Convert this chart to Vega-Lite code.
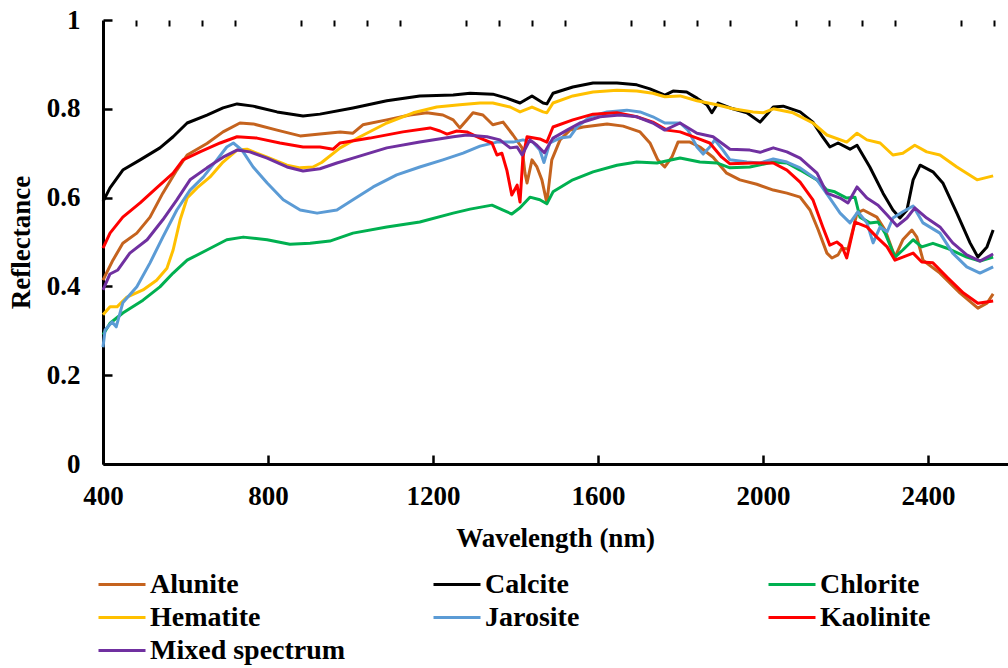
{
  "$schema": "https://vega.github.io/schema/vega-lite/v6.json",
  "width": 905,
  "height": 444,
  "autosize": {"type": "none"},
  "padding": {"left": 103, "top": 20, "right": 0, "bottom": 204},
  "background": "white",
  "config": {"view": {"stroke": null}, "font": "Liberation Serif"},
  "data": {"values": [
    {"m":"Alunite","w":400,"r":0.414},{"m":"Alunite","w":424,"r":0.459},{"m":"Alunite","w":448,"r":0.497},{"m":"Alunite","w":482,"r":0.520},{"m":"Alunite","w":514,"r":0.556},{"m":"Alunite","w":545,"r":0.610},{"m":"Alunite","w":579,"r":0.662},{"m":"Alunite","w":604,"r":0.696},{"m":"Alunite","w":652,"r":0.722},{"m":"Alunite","w":691,"r":0.748},{"m":"Alunite","w":732,"r":0.768},{"m":"Alunite","w":764,"r":0.766},{"m":"Alunite","w":822,"r":0.752},{"m":"Alunite","w":878,"r":0.739},{"m":"Alunite","w":926,"r":0.743},{"m":"Alunite","w":975,"r":0.748},{"m":"Alunite","w":1006,"r":0.745},{"m":"Alunite","w":1030,"r":0.764},{"m":"Alunite","w":1088,"r":0.775},{"m":"Alunite","w":1144,"r":0.786},{"m":"Alunite","w":1185,"r":0.791},{"m":"Alunite","w":1224,"r":0.786},{"m":"Alunite","w":1249,"r":0.775},{"m":"Alunite","w":1265,"r":0.757},{"m":"Alunite","w":1282,"r":0.775},{"m":"Alunite","w":1297,"r":0.791},{"m":"Alunite","w":1321,"r":0.786},{"m":"Alunite","w":1345,"r":0.764},{"m":"Alunite","w":1370,"r":0.770},{"m":"Alunite","w":1394,"r":0.741},{"m":"Alunite","w":1416,"r":0.712},{"m":"Alunite","w":1423,"r":0.655},{"m":"Alunite","w":1428,"r":0.633},{"m":"Alunite","w":1440,"r":0.685},{"m":"Alunite","w":1452,"r":0.669},{"m":"Alunite","w":1464,"r":0.640},{"m":"Alunite","w":1476,"r":0.588},{"m":"Alunite","w":1488,"r":0.685},{"m":"Alunite","w":1508,"r":0.730},{"m":"Alunite","w":1532,"r":0.752},{"m":"Alunite","w":1564,"r":0.759},{"m":"Alunite","w":1622,"r":0.766},{"m":"Alunite","w":1661,"r":0.761},{"m":"Alunite","w":1702,"r":0.748},{"m":"Alunite","w":1726,"r":0.723},{"m":"Alunite","w":1745,"r":0.685},{"m":"Alunite","w":1762,"r":0.669},{"m":"Alunite","w":1779,"r":0.691},{"m":"Alunite","w":1794,"r":0.725},{"m":"Alunite","w":1823,"r":0.725},{"m":"Alunite","w":1847,"r":0.714},{"m":"Alunite","w":1879,"r":0.691},{"m":"Alunite","w":1912,"r":0.655},{"m":"Alunite","w":1944,"r":0.640},{"m":"Alunite","w":1985,"r":0.630},{"m":"Alunite","w":2025,"r":0.617},{"m":"Alunite","w":2058,"r":0.610},{"m":"Alunite","w":2090,"r":0.601},{"m":"Alunite","w":2114,"r":0.572},{"m":"Alunite","w":2134,"r":0.527},{"m":"Alunite","w":2155,"r":0.475},{"m":"Alunite","w":2167,"r":0.464},{"m":"Alunite","w":2182,"r":0.471},{"m":"Alunite","w":2191,"r":0.486},{"m":"Alunite","w":2206,"r":0.484},{"m":"Alunite","w":2228,"r":0.565},{"m":"Alunite","w":2243,"r":0.572},{"m":"Alunite","w":2276,"r":0.556},{"m":"Alunite","w":2296,"r":0.527},{"m":"Alunite","w":2320,"r":0.466},{"m":"Alunite","w":2339,"r":0.505},{"m":"Alunite","w":2361,"r":0.527},{"m":"Alunite","w":2373,"r":0.511},{"m":"Alunite","w":2388,"r":0.459},{"m":"Alunite","w":2429,"r":0.430},{"m":"Alunite","w":2478,"r":0.385},{"m":"Alunite","w":2521,"r":0.351},{"m":"Alunite","w":2543,"r":0.362},{"m":"Alunite","w":2558,"r":0.383},

    {"m":"Calcite","w":400,"r":0.591},{"m":"Calcite","w":417,"r":0.622},{"m":"Calcite","w":448,"r":0.662},{"m":"Calcite","w":490,"r":0.685},{"m":"Calcite","w":538,"r":0.712},{"m":"Calcite","w":570,"r":0.737},{"m":"Calcite","w":604,"r":0.768},{"m":"Calcite","w":652,"r":0.786},{"m":"Calcite","w":691,"r":0.802},{"m":"Calcite","w":725,"r":0.811},{"m":"Calcite","w":764,"r":0.806},{"m":"Calcite","w":822,"r":0.793},{"m":"Calcite","w":885,"r":0.784},{"m":"Calcite","w":926,"r":0.788},{"m":"Calcite","w":1006,"r":0.802},{"m":"Calcite","w":1088,"r":0.818},{"m":"Calcite","w":1168,"r":0.829},{"m":"Calcite","w":1249,"r":0.831},{"m":"Calcite","w":1290,"r":0.835},{"m":"Calcite","w":1345,"r":0.833},{"m":"Calcite","w":1379,"r":0.824},{"m":"Calcite","w":1411,"r":0.813},{"m":"Calcite","w":1440,"r":0.829},{"m":"Calcite","w":1467,"r":0.813},{"m":"Calcite","w":1476,"r":0.811},{"m":"Calcite","w":1491,"r":0.835},{"m":"Calcite","w":1539,"r":0.849},{"m":"Calcite","w":1588,"r":0.858},{"m":"Calcite","w":1646,"r":0.858},{"m":"Calcite","w":1694,"r":0.854},{"m":"Calcite","w":1726,"r":0.845},{"m":"Calcite","w":1762,"r":0.831},{"m":"Calcite","w":1782,"r":0.840},{"m":"Calcite","w":1815,"r":0.838},{"m":"Calcite","w":1840,"r":0.824},{"m":"Calcite","w":1864,"r":0.809},{"m":"Calcite","w":1876,"r":0.791},{"m":"Calcite","w":1891,"r":0.813},{"m":"Calcite","w":1927,"r":0.800},{"m":"Calcite","w":1961,"r":0.791},{"m":"Calcite","w":1993,"r":0.770},{"m":"Calcite","w":2025,"r":0.804},{"m":"Calcite","w":2049,"r":0.806},{"m":"Calcite","w":2090,"r":0.793},{"m":"Calcite","w":2121,"r":0.770},{"m":"Calcite","w":2145,"r":0.736},{"m":"Calcite","w":2162,"r":0.714},{"m":"Calcite","w":2182,"r":0.723},{"m":"Calcite","w":2211,"r":0.709},{"m":"Calcite","w":2228,"r":0.718},{"m":"Calcite","w":2259,"r":0.669},{"m":"Calcite","w":2291,"r":0.610},{"m":"Calcite","w":2315,"r":0.572},{"m":"Calcite","w":2332,"r":0.554},{"m":"Calcite","w":2349,"r":0.572},{"m":"Calcite","w":2364,"r":0.640},{"m":"Calcite","w":2381,"r":0.673},{"m":"Calcite","w":2412,"r":0.658},{"m":"Calcite","w":2436,"r":0.633},{"m":"Calcite","w":2470,"r":0.565},{"m":"Calcite","w":2502,"r":0.498},{"m":"Calcite","w":2521,"r":0.466},{"m":"Calcite","w":2543,"r":0.489},{"m":"Calcite","w":2558,"r":0.527},

    {"m":"Chlorite","w":400,"r":0.291},{"m":"Chlorite","w":417,"r":0.317},{"m":"Chlorite","w":448,"r":0.340},{"m":"Chlorite","w":497,"r":0.369},{"m":"Chlorite","w":538,"r":0.399},{"m":"Chlorite","w":570,"r":0.430},{"m":"Chlorite","w":604,"r":0.459},{"m":"Chlorite","w":652,"r":0.482},{"m":"Chlorite","w":700,"r":0.505},{"m":"Chlorite","w":740,"r":0.511},{"m":"Chlorite","w":798,"r":0.505},{"m":"Chlorite","w":853,"r":0.495},{"m":"Chlorite","w":902,"r":0.497},{"m":"Chlorite","w":950,"r":0.502},{"m":"Chlorite","w":1006,"r":0.520},{"m":"Chlorite","w":1088,"r":0.534},{"m":"Chlorite","w":1168,"r":0.545},{"m":"Chlorite","w":1249,"r":0.565},{"m":"Chlorite","w":1290,"r":0.574},{"m":"Chlorite","w":1343,"r":0.583},{"m":"Chlorite","w":1370,"r":0.572},{"m":"Chlorite","w":1391,"r":0.563},{"m":"Chlorite","w":1411,"r":0.577},{"m":"Chlorite","w":1435,"r":0.601},{"m":"Chlorite","w":1459,"r":0.595},{"m":"Chlorite","w":1476,"r":0.586},{"m":"Chlorite","w":1491,"r":0.613},{"m":"Chlorite","w":1539,"r":0.640},{"m":"Chlorite","w":1588,"r":0.658},{"m":"Chlorite","w":1646,"r":0.673},{"m":"Chlorite","w":1694,"r":0.680},{"m":"Chlorite","w":1743,"r":0.678},{"m":"Chlorite","w":1799,"r":0.689},{"m":"Chlorite","w":1847,"r":0.680},{"m":"Chlorite","w":1888,"r":0.678},{"m":"Chlorite","w":1920,"r":0.667},{"m":"Chlorite","w":1968,"r":0.669},{"m":"Chlorite","w":2025,"r":0.680},{"m":"Chlorite","w":2058,"r":0.678},{"m":"Chlorite","w":2090,"r":0.662},{"m":"Chlorite","w":2131,"r":0.640},{"m":"Chlorite","w":2155,"r":0.617},{"m":"Chlorite","w":2174,"r":0.613},{"m":"Chlorite","w":2203,"r":0.599},{"m":"Chlorite","w":2223,"r":0.601},{"m":"Chlorite","w":2235,"r":0.556},{"m":"Chlorite","w":2259,"r":0.543},{"m":"Chlorite","w":2279,"r":0.545},{"m":"Chlorite","w":2296,"r":0.520},{"m":"Chlorite","w":2320,"r":0.466},{"m":"Chlorite","w":2339,"r":0.482},{"m":"Chlorite","w":2364,"r":0.505},{"m":"Chlorite","w":2385,"r":0.489},{"m":"Chlorite","w":2412,"r":0.497},{"m":"Chlorite","w":2446,"r":0.486},{"m":"Chlorite","w":2494,"r":0.466},{"m":"Chlorite","w":2526,"r":0.457},{"m":"Chlorite","w":2558,"r":0.466},

    {"m":"Hematite","w":400,"r":0.336},{"m":"Hematite","w":417,"r":0.354},{"m":"Hematite","w":434,"r":0.354},{"m":"Hematite","w":458,"r":0.376},{"m":"Hematite","w":497,"r":0.392},{"m":"Hematite","w":530,"r":0.414},{"m":"Hematite","w":555,"r":0.441},{"m":"Hematite","w":570,"r":0.482},{"m":"Hematite","w":587,"r":0.550},{"m":"Hematite","w":604,"r":0.599},{"m":"Hematite","w":628,"r":0.622},{"m":"Hematite","w":659,"r":0.646},{"m":"Hematite","w":691,"r":0.680},{"m":"Hematite","w":725,"r":0.707},{"m":"Hematite","w":749,"r":0.709},{"m":"Hematite","w":798,"r":0.691},{"m":"Hematite","w":846,"r":0.673},{"m":"Hematite","w":878,"r":0.667},{"m":"Hematite","w":909,"r":0.669},{"m":"Hematite","w":930,"r":0.679},{"m":"Hematite","w":975,"r":0.712},{"m":"Hematite","w":1023,"r":0.737},{"m":"Hematite","w":1088,"r":0.768},{"m":"Hematite","w":1152,"r":0.791},{"m":"Hematite","w":1209,"r":0.804},{"m":"Hematite","w":1265,"r":0.809},{"m":"Hematite","w":1314,"r":0.813},{"m":"Hematite","w":1345,"r":0.813},{"m":"Hematite","w":1387,"r":0.804},{"m":"Hematite","w":1411,"r":0.793},{"m":"Hematite","w":1440,"r":0.804},{"m":"Hematite","w":1467,"r":0.793},{"m":"Hematite","w":1476,"r":0.791},{"m":"Hematite","w":1491,"r":0.813},{"m":"Hematite","w":1539,"r":0.829},{"m":"Hematite","w":1588,"r":0.838},{"m":"Hematite","w":1646,"r":0.842},{"m":"Hematite","w":1694,"r":0.840},{"m":"Hematite","w":1733,"r":0.835},{"m":"Hematite","w":1762,"r":0.827},{"m":"Hematite","w":1799,"r":0.829},{"m":"Hematite","w":1840,"r":0.818},{"m":"Hematite","w":1888,"r":0.809},{"m":"Hematite","w":1927,"r":0.800},{"m":"Hematite","w":1976,"r":0.793},{"m":"Hematite","w":2000,"r":0.791},{"m":"Hematite","w":2025,"r":0.800},{"m":"Hematite","w":2073,"r":0.791},{"m":"Hematite","w":2121,"r":0.768},{"m":"Hematite","w":2155,"r":0.741},{"m":"Hematite","w":2203,"r":0.725},{"m":"Hematite","w":2228,"r":0.745},{"m":"Hematite","w":2252,"r":0.730},{"m":"Hematite","w":2284,"r":0.723},{"m":"Hematite","w":2315,"r":0.696},{"m":"Hematite","w":2339,"r":0.700},{"m":"Hematite","w":2368,"r":0.718},{"m":"Hematite","w":2397,"r":0.703},{"m":"Hematite","w":2429,"r":0.696},{"m":"Hematite","w":2470,"r":0.669},{"m":"Hematite","w":2519,"r":0.640},{"m":"Hematite","w":2558,"r":0.649},

    {"m":"Jarosite","w":400,"r":0.263},{"m":"Jarosite","w":405,"r":0.302},{"m":"Jarosite","w":422,"r":0.320},{"m":"Jarosite","w":432,"r":0.309},{"m":"Jarosite","w":448,"r":0.363},{"m":"Jarosite","w":482,"r":0.399},{"m":"Jarosite","w":514,"r":0.453},{"m":"Jarosite","w":545,"r":0.511},{"m":"Jarosite","w":579,"r":0.572},{"m":"Jarosite","w":611,"r":0.617},{"m":"Jarosite","w":643,"r":0.646},{"m":"Jarosite","w":676,"r":0.685},{"m":"Jarosite","w":700,"r":0.714},{"m":"Jarosite","w":716,"r":0.723},{"m":"Jarosite","w":737,"r":0.707},{"m":"Jarosite","w":764,"r":0.669},{"m":"Jarosite","w":798,"r":0.633},{"m":"Jarosite","w":837,"r":0.595},{"m":"Jarosite","w":878,"r":0.572},{"m":"Jarosite","w":919,"r":0.565},{"m":"Jarosite","w":967,"r":0.572},{"m":"Jarosite","w":1006,"r":0.595},{"m":"Jarosite","w":1055,"r":0.624},{"m":"Jarosite","w":1112,"r":0.651},{"m":"Jarosite","w":1168,"r":0.669},{"m":"Jarosite","w":1224,"r":0.685},{"m":"Jarosite","w":1273,"r":0.700},{"m":"Jarosite","w":1314,"r":0.716},{"m":"Jarosite","w":1355,"r":0.725},{"m":"Jarosite","w":1394,"r":0.725},{"m":"Jarosite","w":1418,"r":0.730},{"m":"Jarosite","w":1442,"r":0.725},{"m":"Jarosite","w":1459,"r":0.707},{"m":"Jarosite","w":1469,"r":0.679},{"m":"Jarosite","w":1483,"r":0.723},{"m":"Jarosite","w":1508,"r":0.734},{"m":"Jarosite","w":1532,"r":0.737},{"m":"Jarosite","w":1549,"r":0.759},{"m":"Jarosite","w":1581,"r":0.782},{"m":"Jarosite","w":1622,"r":0.793},{"m":"Jarosite","w":1670,"r":0.797},{"m":"Jarosite","w":1702,"r":0.793},{"m":"Jarosite","w":1733,"r":0.782},{"m":"Jarosite","w":1762,"r":0.768},{"m":"Jarosite","w":1799,"r":0.768},{"m":"Jarosite","w":1818,"r":0.752},{"m":"Jarosite","w":1840,"r":0.714},{"m":"Jarosite","w":1855,"r":0.698},{"m":"Jarosite","w":1871,"r":0.714},{"m":"Jarosite","w":1883,"r":0.730},{"m":"Jarosite","w":1903,"r":0.707},{"m":"Jarosite","w":1920,"r":0.685},{"m":"Jarosite","w":1961,"r":0.680},{"m":"Jarosite","w":1993,"r":0.678},{"m":"Jarosite","w":2025,"r":0.687},{"m":"Jarosite","w":2058,"r":0.680},{"m":"Jarosite","w":2090,"r":0.667},{"m":"Jarosite","w":2131,"r":0.640},{"m":"Jarosite","w":2162,"r":0.599},{"m":"Jarosite","w":2187,"r":0.565},{"m":"Jarosite","w":2211,"r":0.543},{"m":"Jarosite","w":2230,"r":0.568},{"m":"Jarosite","w":2252,"r":0.543},{"m":"Jarosite","w":2267,"r":0.498},{"m":"Jarosite","w":2284,"r":0.534},{"m":"Jarosite","w":2301,"r":0.523},{"m":"Jarosite","w":2315,"r":0.554},{"m":"Jarosite","w":2339,"r":0.568},{"m":"Jarosite","w":2364,"r":0.581},{"m":"Jarosite","w":2388,"r":0.543},{"m":"Jarosite","w":2429,"r":0.520},{"m":"Jarosite","w":2460,"r":0.475},{"m":"Jarosite","w":2494,"r":0.444},{"m":"Jarosite","w":2526,"r":0.430},{"m":"Jarosite","w":2558,"r":0.444},

    {"m":"Kaolinite","w":400,"r":0.486},{"m":"Kaolinite","w":417,"r":0.520},{"m":"Kaolinite","w":448,"r":0.556},{"m":"Kaolinite","w":490,"r":0.588},{"m":"Kaolinite","w":530,"r":0.622},{"m":"Kaolinite","w":570,"r":0.655},{"m":"Kaolinite","w":594,"r":0.685},{"m":"Kaolinite","w":635,"r":0.703},{"m":"Kaolinite","w":684,"r":0.723},{"m":"Kaolinite","w":725,"r":0.737},{"m":"Kaolinite","w":773,"r":0.734},{"m":"Kaolinite","w":829,"r":0.723},{"m":"Kaolinite","w":885,"r":0.714},{"m":"Kaolinite","w":926,"r":0.714},{"m":"Kaolinite","w":958,"r":0.709},{"m":"Kaolinite","w":975,"r":0.723},{"m":"Kaolinite","w":1047,"r":0.734},{"m":"Kaolinite","w":1127,"r":0.748},{"m":"Kaolinite","w":1193,"r":0.757},{"m":"Kaolinite","w":1217,"r":0.750},{"m":"Kaolinite","w":1234,"r":0.743},{"m":"Kaolinite","w":1258,"r":0.750},{"m":"Kaolinite","w":1282,"r":0.748},{"m":"Kaolinite","w":1314,"r":0.734},{"m":"Kaolinite","w":1343,"r":0.723},{"m":"Kaolinite","w":1355,"r":0.696},{"m":"Kaolinite","w":1367,"r":0.700},{"m":"Kaolinite","w":1379,"r":0.662},{"m":"Kaolinite","w":1391,"r":0.606},{"m":"Kaolinite","w":1404,"r":0.628},{"m":"Kaolinite","w":1411,"r":0.590},{"m":"Kaolinite","w":1418,"r":0.691},{"m":"Kaolinite","w":1428,"r":0.737},{"m":"Kaolinite","w":1459,"r":0.732},{"m":"Kaolinite","w":1476,"r":0.725},{"m":"Kaolinite","w":1491,"r":0.759},{"m":"Kaolinite","w":1539,"r":0.775},{"m":"Kaolinite","w":1588,"r":0.788},{"m":"Kaolinite","w":1646,"r":0.791},{"m":"Kaolinite","w":1694,"r":0.782},{"m":"Kaolinite","w":1733,"r":0.770},{"m":"Kaolinite","w":1767,"r":0.752},{"m":"Kaolinite","w":1799,"r":0.748},{"m":"Kaolinite","w":1840,"r":0.734},{"m":"Kaolinite","w":1871,"r":0.723},{"m":"Kaolinite","w":1900,"r":0.691},{"m":"Kaolinite","w":1920,"r":0.676},{"m":"Kaolinite","w":1976,"r":0.678},{"m":"Kaolinite","w":2025,"r":0.678},{"m":"Kaolinite","w":2058,"r":0.662},{"m":"Kaolinite","w":2090,"r":0.635},{"m":"Kaolinite","w":2121,"r":0.595},{"m":"Kaolinite","w":2145,"r":0.534},{"m":"Kaolinite","w":2162,"r":0.493},{"m":"Kaolinite","w":2179,"r":0.500},{"m":"Kaolinite","w":2191,"r":0.491},{"m":"Kaolinite","w":2203,"r":0.464},{"m":"Kaolinite","w":2223,"r":0.545},{"m":"Kaolinite","w":2252,"r":0.534},{"m":"Kaolinite","w":2276,"r":0.511},{"m":"Kaolinite","w":2301,"r":0.489},{"m":"Kaolinite","w":2320,"r":0.459},{"m":"Kaolinite","w":2339,"r":0.466},{"m":"Kaolinite","w":2364,"r":0.475},{"m":"Kaolinite","w":2385,"r":0.455},{"m":"Kaolinite","w":2412,"r":0.453},{"m":"Kaolinite","w":2446,"r":0.421},{"m":"Kaolinite","w":2486,"r":0.385},{"m":"Kaolinite","w":2521,"r":0.362},{"m":"Kaolinite","w":2558,"r":0.367},

    {"m":"Mixed spectrum","w":400,"r":0.392},{"m":"Mixed spectrum","w":417,"r":0.428},{"m":"Mixed spectrum","w":436,"r":0.437},{"m":"Mixed spectrum","w":465,"r":0.475},{"m":"Mixed spectrum","w":507,"r":0.505},{"m":"Mixed spectrum","w":545,"r":0.550},{"m":"Mixed spectrum","w":579,"r":0.595},{"m":"Mixed spectrum","w":611,"r":0.640},{"m":"Mixed spectrum","w":652,"r":0.667},{"m":"Mixed spectrum","w":691,"r":0.691},{"m":"Mixed spectrum","w":725,"r":0.707},{"m":"Mixed spectrum","w":756,"r":0.703},{"m":"Mixed spectrum","w":798,"r":0.689},{"m":"Mixed spectrum","w":846,"r":0.669},{"m":"Mixed spectrum","w":885,"r":0.660},{"m":"Mixed spectrum","w":926,"r":0.665},{"m":"Mixed spectrum","w":967,"r":0.678},{"m":"Mixed spectrum","w":1006,"r":0.689},{"m":"Mixed spectrum","w":1088,"r":0.712},{"m":"Mixed spectrum","w":1168,"r":0.725},{"m":"Mixed spectrum","w":1249,"r":0.737},{"m":"Mixed spectrum","w":1282,"r":0.741},{"m":"Mixed spectrum","w":1331,"r":0.737},{"m":"Mixed spectrum","w":1362,"r":0.730},{"m":"Mixed spectrum","w":1387,"r":0.712},{"m":"Mixed spectrum","w":1404,"r":0.714},{"m":"Mixed spectrum","w":1416,"r":0.696},{"m":"Mixed spectrum","w":1435,"r":0.730},{"m":"Mixed spectrum","w":1452,"r":0.718},{"m":"Mixed spectrum","w":1470,"r":0.701},{"m":"Mixed spectrum","w":1491,"r":0.734},{"m":"Mixed spectrum","w":1525,"r":0.752},{"m":"Mixed spectrum","w":1556,"r":0.768},{"m":"Mixed spectrum","w":1605,"r":0.782},{"m":"Mixed spectrum","w":1653,"r":0.786},{"m":"Mixed spectrum","w":1694,"r":0.782},{"m":"Mixed spectrum","w":1733,"r":0.768},{"m":"Mixed spectrum","w":1762,"r":0.752},{"m":"Mixed spectrum","w":1799,"r":0.768},{"m":"Mixed spectrum","w":1840,"r":0.745},{"m":"Mixed spectrum","w":1879,"r":0.737},{"m":"Mixed spectrum","w":1920,"r":0.709},{"m":"Mixed spectrum","w":1968,"r":0.707},{"m":"Mixed spectrum","w":1993,"r":0.702},{"m":"Mixed spectrum","w":2025,"r":0.712},{"m":"Mixed spectrum","w":2058,"r":0.703},{"m":"Mixed spectrum","w":2090,"r":0.689},{"m":"Mixed spectrum","w":2131,"r":0.655},{"m":"Mixed spectrum","w":2155,"r":0.610},{"m":"Mixed spectrum","w":2187,"r":0.599},{"m":"Mixed spectrum","w":2206,"r":0.588},{"m":"Mixed spectrum","w":2228,"r":0.624},{"m":"Mixed spectrum","w":2252,"r":0.599},{"m":"Mixed spectrum","w":2279,"r":0.583},{"m":"Mixed spectrum","w":2301,"r":0.561},{"m":"Mixed spectrum","w":2325,"r":0.536},{"m":"Mixed spectrum","w":2349,"r":0.554},{"m":"Mixed spectrum","w":2368,"r":0.577},{"m":"Mixed spectrum","w":2397,"r":0.554},{"m":"Mixed spectrum","w":2429,"r":0.534},{"m":"Mixed spectrum","w":2460,"r":0.498},{"m":"Mixed spectrum","w":2494,"r":0.471},{"m":"Mixed spectrum","w":2526,"r":0.457},{"m":"Mixed spectrum","w":2558,"r":0.473}
  ]},
  "layer": [
    {
      "mark": {"type": "line", "strokeWidth": 3, "strokeJoin": "round"},
      "encoding": {
        "x": {
          "field": "w", "type": "quantitative",
          "scale": {"domain": [400, 2594], "nice": false, "zero": false},
          "axis": {
            "values": [400, 800, 1200, 1600, 2000, 2400],
            "format": "d", "grid": false, "labelFlush": false,
            "title": "Wavelength (nm)",
            "domainColor": "black", "domainWidth": 3,
            "tickColor": "black", "tickWidth": 2.5, "tickSize": -9,
            "labelFont": "Liberation Serif", "labelFontWeight": "bold", "labelFontSize": 27, "labelColor": "black",
            "labelBaseline": "alphabetic", "labelPadding": 49,
            "titleFont": "Liberation Serif", "titleFontWeight": "bold", "titleFontSize": 27, "titleColor": "black",
            "titleX": 452, "titleY": 82, "titleBaseline": "alphabetic"
          }
        },
        "y": {
          "field": "r", "type": "quantitative",
          "scale": {"domain": [0, 1], "nice": false},
          "axis": {
            "values": [0, 0.2, 0.4, 0.6, 0.8, 1],
            "format": "~g", "grid": false, "labelFlush": false,
            "title": "Reflectance",
            "domainColor": "black", "domainWidth": 3,
            "tickColor": "black", "tickWidth": 2.5, "tickSize": -9,
            "labelFont": "Liberation Serif", "labelFontWeight": "bold", "labelFontSize": 27, "labelColor": "black",
            "labelPadding": 32,
            "titleFont": "Liberation Serif", "titleFontWeight": "bold", "titleFontSize": 27, "titleColor": "black",
            "titleX": -74, "titleY": 222, "titleBaseline": "alphabetic", "titleAngle": 270
          }
        },
        "color": {
          "field": "m", "type": "nominal",
          "scale": {
            "domain": ["Alunite", "Calcite", "Chlorite", "Hematite", "Jarosite", "Kaolinite", "Mixed spectrum"],
            "range": ["#C5631E", "#000000", "#00B050", "#FFC000", "#5B9BD5", "#FF0000", "#7030A0"]
          },
          "legend": {
            "orient": "none", "legendX": -6, "legendY": 548,
            "direction": "horizontal", "columns": 3, "gridAlign": "all",
            "columnPadding": 86, "rowPadding": 0, "clipHeight": 33, "title": null,
            "symbolType": "stroke", "symbolSize": 2209, "symbolStrokeWidth": 3,
            "labelFont": "Liberation Serif", "labelFontSize": 28, "labelFontWeight": "bold", "labelColor": "black",
            "labelOffset": 3, "labelLimit": 400
          }
        }
      }
    },
    {
      "mark": {"type": "point", "opacity": 0},
      "encoding": {
        "x": {
          "field": "w", "type": "quantitative",
          "scale": {"domain": [400, 2594], "nice": false, "zero": false},
          "axis": {
            "values": [480, 560, 640, 720, 880, 960, 1040, 1120, 1280, 1360, 1440, 1520, 1680, 1760, 1840, 1920, 2080, 2160, 2240, 2320, 2480, 2560],
            "labels": false, "domain": false, "grid": false, "title": null,
            "tickColor": "black", "tickWidth": 2, "tickSize": -6
          }
        }
      }
    }
  ],
  "resolve": {"axis": {"x": "independent"}}
}
